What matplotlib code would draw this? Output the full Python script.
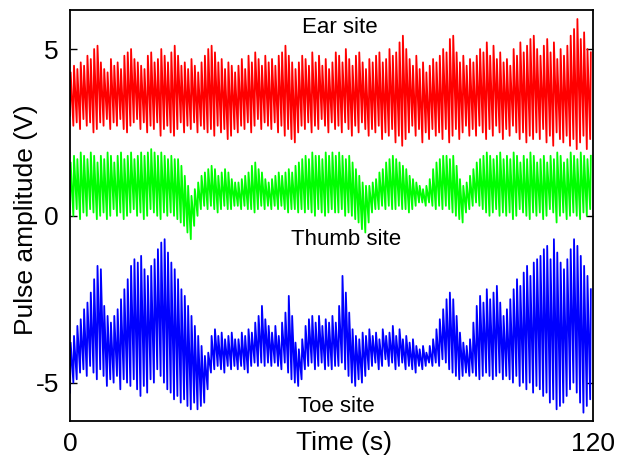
import numpy as np
import matplotlib
matplotlib.use("Agg")
import matplotlib.pyplot as plt

plt.rcParams['font.family'] = ['Liberation Sans', 'DejaVu Sans']
plt.rcParams['axes.unicode_minus'] = False

# pulse recordings, one peak and one trough value per heart beat (V)
beat_period = 0.77   # s between beats
rise_time = 0.15     # s from foot to top of a beat

red_peak = [
	4.3, 4.5, 4.4, 4.6, 4.5, 4.8, 4.7, 5.0, 5.1, 4.6,
	4.4, 4.3, 4.7, 4.5, 4.6, 4.4, 4.8, 4.9, 5.0, 4.7,
	4.6, 4.5, 4.4, 4.8, 4.9, 4.6, 4.7, 5.0, 4.8, 4.6,
	4.9, 5.1, 4.8, 4.5, 4.6, 4.4, 4.7, 4.5, 4.3, 4.6,
	4.8, 5.0, 5.1, 4.9, 4.6, 4.7, 4.4, 4.6, 4.5, 4.3,
	4.5, 4.7, 4.4, 4.8, 4.6, 4.9, 4.7, 4.5, 4.8, 4.6,
	4.7, 4.5, 4.8, 4.9, 5.1, 4.8, 4.6, 4.4, 4.6, 4.8,
	4.7, 4.5, 4.9, 4.6, 4.8, 4.5, 4.7, 4.4, 4.6, 4.9,
	4.8, 4.6, 5.0, 4.7, 4.5, 4.8, 4.9, 4.6, 4.4, 4.7,
	4.6, 4.8, 4.9, 4.6, 4.7, 5.0, 4.8, 4.9, 5.2, 5.4,
	5.0, 4.7, 4.5, 4.8, 4.4, 4.6, 4.3, 4.5, 4.7, 4.6,
	4.8, 5.0, 4.9, 5.3, 5.4, 4.9, 4.6, 4.8, 4.5, 4.7,
	4.6, 4.8, 5.0, 4.9, 5.2, 4.8, 5.1, 4.7, 4.9, 4.6,
	4.7, 4.5, 5.0, 4.8, 5.2, 4.9, 5.1, 5.3, 5.4, 5.0,
	4.8, 5.1, 5.3, 4.9, 5.2, 4.7, 5.0, 4.8, 5.1, 5.4,
	5.6, 5.9, 5.3, 5.5, 5.0, 4.9]
red_trough = [
	3.0, 2.7, 2.8, 2.6, 2.9, 2.7, 2.8, 2.5, 2.6, 2.8,
	2.7, 2.9, 2.6, 2.8, 2.7, 2.9, 2.6, 2.5, 2.7, 2.8,
	2.9, 2.6, 2.8, 2.5, 2.7, 2.6, 2.8, 2.4, 2.6, 2.7,
	2.5, 2.4, 2.6, 2.8, 2.5, 2.7, 2.6, 2.8, 2.5, 2.7,
	2.6, 2.5, 2.6, 2.4, 2.7, 2.5, 2.6, 2.3, 2.4, 2.6,
	2.5, 2.7, 2.6, 2.8, 2.5, 2.7, 2.9, 2.6, 2.8, 2.7,
	2.6, 2.8, 2.5, 2.7, 2.4, 2.6, 2.3, 2.2, 2.5, 2.7,
	2.6, 2.8, 2.5, 2.7, 2.6, 2.9, 2.7, 2.5, 2.8, 2.6,
	2.7, 2.5, 2.8, 2.6, 2.4, 2.7, 2.5, 2.8, 2.6, 2.4,
	2.6, 2.5, 2.7, 2.3, 2.5, 2.4, 2.6, 2.2, 2.4, 2.1,
	2.3, 2.5, 2.7, 2.4, 2.6, 2.2, 2.5, 2.3, 2.6, 2.4,
	2.5, 2.3, 2.6, 2.2, 2.4, 2.6, 2.3, 2.5, 2.7, 2.4,
	2.6, 2.4, 2.7, 2.5, 2.3, 2.6, 2.4, 2.7, 2.5, 2.3,
	2.6, 2.4, 2.7, 2.5, 2.3, 2.5, 2.2, 2.4, 2.3, 2.5,
	2.3, 2.6, 2.2, 2.4, 2.1, 2.5, 2.3, 2.2, 2.4, 2.1,
	2.3, 2.0, 2.2, 2.4, 2.0, 2.3]

green_peak = [
	1.6, 1.8, 1.7, 1.9, 1.8, 1.7, 1.9, 1.8, 1.6, 1.8,
	1.7, 1.9, 1.8, 1.6, 1.8, 1.9, 1.7, 1.8, 1.9, 1.7,
	1.8, 1.9, 1.8, 1.9, 2.0, 1.9, 1.8, 1.9, 1.8, 1.7,
	1.8, 1.7, 1.7, 1.5, 1.2, 0.9, 0.6, 0.8, 1.0, 1.2,
	1.3, 1.4, 1.5, 1.4, 1.2, 1.3, 1.4, 1.3, 1.1, 1.0,
	1.0, 1.1, 1.2, 1.3, 1.5, 1.6, 1.4, 1.3, 1.1, 1.0,
	1.1, 1.2, 1.3, 1.2, 1.3, 1.4, 1.3, 1.5, 1.6, 1.7,
	1.8, 1.7, 1.9, 1.8, 1.8, 1.7, 1.9, 1.8, 1.9, 1.8,
	1.9, 1.8, 1.7, 1.8, 1.6, 1.4, 1.2, 1.0, 0.9, 0.9,
	1.0, 1.1, 1.3, 1.4, 1.6, 1.7, 1.8, 1.7, 1.6, 1.5,
	1.4, 1.2, 1.1, 1.0, 0.9, 0.8, 0.9, 1.1, 1.4, 1.6,
	1.7, 1.8, 1.8, 1.7, 1.8, 1.5, 1.1, 0.9, 1.0, 1.2,
	1.4, 1.6, 1.7, 1.8, 1.9, 1.8, 1.7, 1.8, 1.9, 1.7,
	1.8, 1.7, 1.9, 1.8, 1.6, 1.8, 1.7, 1.9, 1.8, 1.6,
	1.7, 1.8, 1.6, 1.8, 1.7, 1.9, 1.8, 1.6, 1.7, 1.9,
	1.8, 1.7, 1.9, 1.8, 1.7, 1.8]
green_trough = [
	0.1, 0.0, 0.2, -0.1, 0.1, 0.0, 0.2, 0.1, -0.1, 0.0,
	0.1, -0.1, 0.0, 0.2, 0.0, 0.1, -0.1, 0.0, 0.1, 0.2,
	0.0, 0.1, -0.1, 0.0, 0.2, 0.1, 0.0, -0.1, 0.1, 0.0,
	0.1, 0.0, -0.1, -0.2, -0.3, -0.5, -0.7, -0.3, 0.0, 0.2,
	0.3, 0.2, 0.3, 0.2, 0.1, 0.2, 0.3, 0.2, 0.2, 0.3,
	0.3, 0.2, 0.3, 0.2, 0.2, 0.1, 0.2, 0.3, 0.2, 0.3,
	0.2, 0.3, 0.2, 0.3, 0.2, 0.1, 0.2, 0.2, 0.1, 0.2,
	0.1, 0.2, 0.1, 0.0, 0.2, 0.1, 0.0, 0.1, 0.2, 0.1,
	0.1, 0.2, 0.0, 0.1, 0.0, -0.1, -0.2, -0.4, -0.5, -0.2,
	0.1, 0.2, 0.2, 0.3, 0.2, 0.3, 0.2, 0.2, 0.3, 0.2,
	0.2, 0.1, 0.2, 0.3, 0.4, 0.4, 0.3, 0.4, 0.3, 0.2,
	0.3, 0.2, 0.3, 0.2, 0.1, 0.0, -0.1, -0.2, 0.1, 0.2,
	0.3, 0.4, 0.3, 0.2, 0.1, 0.0, 0.1, 0.2, 0.0, 0.1,
	0.0, 0.1, -0.1, 0.0, 0.2, 0.1, 0.0, -0.1, 0.1, 0.0,
	0.1, -0.1, 0.0, 0.2, 0.1, -0.2, 0.0, 0.1, -0.1, 0.0,
	0.1, 0.0, -0.1, 0.1, 0.0, 0.2]

blue_peak = [
	-3.8, -3.6, -3.3, -3.1, -2.8, -2.6, -2.3, -1.9, -1.5, -1.6,
	-2.7, -3.0, -3.2, -3.0, -2.8, -2.5, -2.2, -1.9, -1.5, -1.3,
	-1.4, -1.2, -1.6, -1.8, -1.5, -1.3, -1.0, -0.8, -0.7, -1.1,
	-1.4, -1.6, -1.9, -2.2, -2.4, -2.7, -3.0, -3.3, -3.6, -3.9,
	-4.2, -4.1, -3.6, -3.4, -3.6, -3.5, -3.7, -3.6, -3.5, -3.7,
	-3.7, -3.5, -3.6, -3.4, -3.5, -3.2, -3.0, -2.7, -3.1, -3.3,
	-3.5, -3.3, -3.6, -3.2, -2.9, -2.4, -3.0, -3.8, -4.0, -3.7,
	-3.3, -3.1, -3.0, -3.2, -3.0, -3.3, -3.1, -3.2, -3.0, -3.2,
	-2.7, -1.8, -2.3, -2.9, -3.4, -3.6, -3.7, -3.5, -3.6, -3.4,
	-3.6, -3.5, -3.7, -3.4, -3.6, -3.5, -3.3, -3.6, -3.4, -3.7,
	-3.6, -3.8, -3.7, -3.9, -4.0, -3.9, -4.1, -3.9, -3.7, -3.4,
	-3.1, -2.8, -2.5, -2.3, -2.5, -3.0, -3.5, -3.8, -3.9, -3.7,
	-3.2, -2.7, -2.4, -2.6, -2.2, -2.5, -2.3, -2.1, -2.6, -3.0,
	-2.8, -2.5, -2.2, -1.9, -2.1, -1.7, -1.5, -1.8, -1.4, -1.3,
	-1.2, -1.0, -0.9, -1.3, -0.7, -1.1, -1.4, -1.6, -1.3, -1.0,
	-0.7, -0.9, -1.2, -1.5, -1.8, -2.2]
blue_trough = [
	-5.3, -5.0, -4.9, -4.7, -4.6, -4.8, -4.5, -4.7, -4.9, -4.6,
	-4.8, -5.1, -4.9, -5.0, -4.8, -5.2, -4.9, -5.0, -5.1, -4.9,
	-5.2, -5.4, -5.1, -5.3, -4.9, -5.0, -4.6, -4.8, -5.0, -5.2,
	-5.3, -5.5, -5.4, -5.6, -5.5, -5.7, -5.8, -5.6, -5.8, -5.7,
	-5.6, -5.2, -4.7, -4.6, -4.5, -4.6, -4.7, -4.5, -4.6, -4.5,
	-4.6, -4.5, -4.6, -4.7, -4.5, -4.4, -4.5, -4.4, -4.5, -4.4,
	-4.5, -4.4, -4.5, -4.6, -4.4, -4.7, -4.9, -5.0, -5.1, -4.9,
	-4.6, -4.5, -4.4, -4.6, -4.5, -4.4, -4.6, -4.5, -4.6, -4.5,
	-4.5, -4.4, -4.6, -4.8, -5.0, -5.1, -4.9, -5.0, -4.8, -4.6,
	-4.5, -4.4, -4.6, -4.5, -4.3, -4.5, -4.4, -4.6, -4.5, -4.4,
	-4.6, -4.5, -4.6, -4.7, -4.5, -4.6, -4.5, -4.4, -4.5, -4.4,
	-4.5, -4.3, -4.4, -4.6, -4.7, -4.8, -4.9, -4.8, -4.7, -4.8,
	-4.7, -4.8, -4.9, -4.8, -4.7, -4.8, -4.9, -4.8, -4.7, -4.9,
	-4.8, -4.9, -5.0, -4.8, -5.1, -5.0, -5.2, -5.0, -5.3, -5.1,
	-5.2, -5.4, -5.3, -5.6, -5.5, -5.8, -5.7, -5.6, -5.4, -5.2,
	-5.0, -5.3, -5.6, -5.9, -5.7, -5.5]

site_names = ["Ear site", "Thumb site", "Toe site"]
x_ticks = [0, 120]
y_ticks = [-5, 0, 5]


def beats(trough, peak):
	# foot of each beat, then its top a little later
	n = len(peak)
	t0 = np.arange(n) * beat_period
	t = np.empty(2 * n)
	v = np.empty(2 * n)
	t[0::2] = t0
	t[1::2] = t0 + rise_time
	v[0::2] = trough
	v[1::2] = peak
	return t, v


fig = plt.figure(figsize=(6.18, 4.66), dpi=100)
ax = fig.add_axes([70/618, 1 - 421/466, 523/618, 411/466])

for trough, peak, col in [(red_trough, red_peak, '#ff0000'),
						  (green_trough, green_peak, '#00ff00'),
						  (blue_trough, blue_peak, '#0000ff')]:
	t, v = beats(trough, peak)
	ax.plot(t, v, color=col, lw=1.3)

ax.text(62, 5.48, site_names[0], ha='center', va='baseline', fontsize=16)
ax.text(63.3, -0.87, site_names[1], ha='center', va='baseline', fontsize=16)
ax.text(61.2, -5.87, site_names[2], ha='center', va='baseline', fontsize=16)

ax.set_xlim(0, 120)
ax.set_ylim(-6.15, 6.17)
ax.set_xticks(x_ticks)
ax.set_yticks(y_ticks)
ax.tick_params(direction='in', length=5, width=1, labelsize=19, pad=8,
			   left=True, right=True, top=False, bottom=False)
for s in ax.spines.values():
	s.set_linewidth(1.3)

ax.set_xlabel("Time (s)", fontsize=19)
ax.xaxis.set_label_coords(0.523, -0.025)
ax.set_ylabel("Pulse amplitude (V)", fontsize=19)
ax.yaxis.set_label_coords(-0.062, 0.49)

fig.savefig("out.png", dpi=100)
